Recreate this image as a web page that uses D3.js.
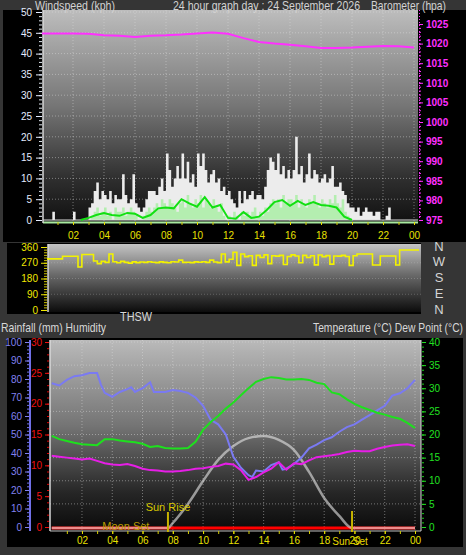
<!DOCTYPE html>
<html><head><meta charset="utf-8">
<script src="https://cdn.jsdelivr.net/npm/d3@7"></script>
<style>html,body{margin:0;padding:0;background:#353535;}svg{display:block;}</style>
</head><body><svg id="c" width="466" height="555"></svg>
<script>
// ---------- DATA ----------
const titleTexts = ["Windspeed (kph)", "24 hour graph day : 24 September 2026", "Barometer (hpa)"];
const hourTickVals = [2,4,6,8,10,12,14,16,18,20,22,24];
const hourTickLabels = ["02","04","06","08","10","12","14","16","18","20","22","00"];
const speedTicks = [0,5,10,15,20,25,30,35,40,45,50];
const baroTicks = [975,980,985,990,995,1000,1005,1010,1015,1020,1025];
const dirTicks = [0,90,180,270,360];
const compassLabels = ["N","W","S","E","N"];
const compassDeg = [360,270,180,90,0];
const humTicks = [0,10,20,30,40,50,60,70,80,90,100];
const rainTicks = [0,5,10,15,20,25,30];
const tempTicks = [0,5,10,15,20,25,30,35,40];

// wind gust (kph), one value per 10 minutes
const gustKph = [
 0,0,0,0,2,0,  0,0,0,0,0,0,  2,0,0,0,0,0,  3,4,7,9,5,7,
 6,5,7,4,6,5,  5,11,6,4,5,11, 4,3,2,3,5,7, 7,7,6,8,10,7,
 16,12,8,10,13,10, 16,10,14,9,11,8, 16,13,16,12,9,11, 12,9,10,7,8,6,
 7,5,4,3,7,4,  7,5,6,7,5,6,  6,5,8,12,15,14, 12,16,11,13,10,12,
 10,12,20,11,13,9, 11,16,10,12,11,9, 10,11,9,10,13,8, 8,9,7,6,4,3,
 3,2,3,1,2,3,  2,2,1,2,2,0,  0,1,3,0,0,0,  0,0,0,0,0,0];
// wind speed (kph), one value per 10 minutes
const speedKph = [
 0,0,0,0,0,0,  0,0,0,0,0,0,  0,0,0,0,0,0,  0,1,2,3,1,2,
 3,1,2,0,3,2,  2,3,1,2,3,2,  1,0,0,1,2,3,  2,3,4,3,5,4,
 3,5,4,3,2,4,  5,3,6,4,3,5,  4,6,3,5,4,3,  5,3,2,4,1,0,
 1,0,2,1,0,2,  1,2,1,2,3,1,  2,1,3,2,4,5,  4,5,3,6,4,5,
 5,4,6,3,5,4,  3,5,4,6,4,3,  5,4,3,5,4,6,  4,3,5,2,1,0,
 0,0,0,0,0,0,  0,0,0,0,0,0,  0,0,0,0,0,0,  0,0,0,0,0,0];
// average wind (kph), every 30 minutes
const avgKph = [0,0,0,0,0,0,0.5,1.2,1.7,1.2,1.0,1.7,1.5,0.5,1.2,2.8,3.0,2.8,5.0,4.0,3.2,5.5,3.0,3.6,
 0.5,0.3,1.9,0.5,0.8,2.4,4.3,4.8,3.4,4.6,3.6,4.3,3.6,3.4,3.0,0.8,0,0,0,0,0,0,0,0,0];
// barometer (hpa), hourly
const baroHpa = [1022.6,1022.6,1022.6,1022.5,1022.1,1022.0,1021.7,1022.0,1022.1,1022.3,1022.6,1022.8,
 1022.5,1021.4,1020.4,1020.0,1019.7,1019.3,1018.9,1018.9,1019.0,1019.2,1019.4,1019.3,1019.0];
// wind direction (deg), every 15 minutes
const windDirDeg = [
 292,292,292,292, 307,307,307,307, 246,317,317,317, 280,265,278,272,
 320,276,270,278, 272,268,275,271, 274,272,276,273, 271,275,272,270,
 276,274,285,272, 273,271,275,273, 276,272,285,274, 271,320,275,290,
 330,255,320,305, 310,255,312,300, 315,265,310,308, 312,260,306,315,
 309,270,312,300, 310,258,314,305, 311,262,309,308, 312,306,255,310,
 320,320,320,320, 257,257,309,309, 309,309,257,343, 343,343,343,343, 343];
// humidity (%)
const humHours = [0,0.5,1,1.5,2,2.5,3,3.25,3.5,4,4.5,5,5.25,5.5,6,6.5,6.75,7,7.5,8,8.5,9,9.5,10,10.5,11,11.5,12,12.5,13,
 13.25,13.5,14,14.5,15,15.25,15.5,16,16.5,17,17.5,18,18.5,19,19.5,20,20.5,21,21.5,22,22.5,23,23.5,24];
const humPct = [77.7,76.5,79.5,81.5,82,83.2,83.2,77,72.5,70.4,73,74.5,75.5,73,75,78.2,73,73,73,74,73.5,72.5,70,65.5,58,55.5,50,38,32,28,
 27,30.5,30,33.5,35,31,31.5,34,37.5,42.5,44.5,47,48.5,51.5,54,55.5,58,60.5,63,65.5,71,72.3,75,79.5];
// temperature and dew point (°C), every 30 minutes
const tempC = [19.7,19.0,18.6,18.2,17.9,17.8,17.7,19.0,19.0,18.7,18.5,18.3,18.0,17.3,17.5,17.1,17.0,17.0,17.1,18.4,
 21.0,22.7,24.0,25.6,26.9,28.5,30.0,31.4,32.0,32.4,32.2,31.9,31.9,32.0,31.8,31.2,30.9,29.1,28.7,27.6,
 26.6,25.9,25.3,24.7,24.3,23.8,23.4,22.5,21.4];
const dewC = [15.4,15.2,15.0,14.8,14.6,14.8,14.3,13.8,13.5,13.4,13.6,13.2,12.6,12.3,12.2,12.0,12.0,12.1,12.3,12.6,
 12.7,13.0,13.2,13.7,13.5,12.3,10.2,10.8,11.8,12.6,14.0,12.4,13.8,13.6,14.4,15.1,15.3,15.5,15.8,16.2,
 16.5,16.4,16.4,16.9,17.3,17.6,17.8,17.9,17.5];
// solar radiation (W/m2)
const solarHours = [0,7.68,8,9,10,11,12,13,14,15,16,17,18,19,19.84,24];
const solarWm2 = [0,0,27,130,254,368,443,486,497,476,422,303,162,65,0,0];
// rainfall (mm)
const rainHours = [0,24];
const rainMm = [0,0];
// events
const eventLabels = ["Moon Set","Sun Rise","Sun Set"];
const eventHours = [4.9,7.68,19.84];

// ---------- DRAW ----------
const FONT = "'Liberation Sans', Arial, sans-serif";
const svg = d3.select("#c").attr("font-family", FONT);
const defs = svg.append("defs");
function grad(id, stops){
  const g = defs.append("linearGradient").attr("id", id).attr("x1",0).attr("y1",0).attr("x2",0).attr("y2",1);
  stops.forEach(s => g.append("stop").attr("offset", s[0]).attr("stop-color", s[1]));
}
grad("gTop", [[0,"#bdbdbd"],[0.45,"#767676"],[0.8,"#2e2e2e"],[1,"#111"]]);
grad("gDir", [[0,"#c4c4c4"],[0.45,"#6a6a6a"],[1,"#0c0c0c"]]);
grad("gBot", [[0,"#bababa"],[0.45,"#747474"],[0.8,"#262626"],[1,"#0a0a0a"]]);

svg.append("rect").attr("width",466).attr("height",555).attr("fill","#353535");

function styleAxis(g, color, size, weight){
  g.attr("font-family", FONT).attr("font-size", size);
  g.select(".domain").remove();
  g.selectAll("line").attr("stroke", color);
  g.selectAll("text").attr("fill", color).attr("font-weight", weight || "normal");
}
const gridCol = "rgba(225,225,225,0.45)";

// ===== TOP PANEL =====
svg.append("rect").attr("x",3).attr("y",10).attr("width",463).attr("height",232).attr("fill","#000");
const T = {l:43, r:418, t:10, b:222};
svg.append("rect").attr("x",T.l).attr("y",T.t).attr("width",T.r-T.l).attr("height",T.b-T.t).attr("fill","url(#gTop)");
const xTop = d3.scaleLinear().domain([0,24]).range([42,414]);
const ySpeed = d3.scaleLinear().domain([0,50]).range([220,12]);
const yBaro = d3.scaleLinear().domain([975,1025]).range([220,24]);

const gg = svg.append("g");
gg.selectAll("line.v").data(hourTickVals).join("line")
  .attr("x1", d=>xTop(d)).attr("x2", d=>xTop(d)).attr("y1", T.t).attr("y2", T.b)
  .attr("stroke", gridCol).attr("stroke-dasharray","1,2");
gg.selectAll("line.h").data(speedTicks.slice(1)).join("line")
  .attr("x1", T.l).attr("x2", T.r).attr("y1", d=>ySpeed(d)).attr("y2", d=>ySpeed(d))
  .attr("stroke", gridCol).attr("stroke-dasharray","1,2");

const step10 = 1/6;
const stepArea = arr => d3.area()
  .x((d,i)=>xTop(i*step10)).y0(ySpeed(0)).y1((d,i)=>ySpeed(arr[Math.min(i, arr.length-1)]))
  .curve(d3.curveStepAfter);
const ext = arr => arr.concat([arr[arr.length-1]]);
svg.append("path").datum(ext(gustKph)).attr("d", stepArea(ext(gustKph))).attr("fill","#ececec");
svg.append("path").datum(ext(speedKph)).attr("d", stepArea(ext(speedKph))).attr("fill","#b4eeb0");
// baselines
svg.append("line").attr("x1",T.l).attr("x2",T.r).attr("y1",ySpeed(0)).attr("y2",ySpeed(0)).attr("stroke","#dcdcdc").attr("stroke-width",1);
svg.append("line").attr("x1",T.l).attr("x2",T.r).attr("y1",T.b+0.5).attr("y2",T.b+0.5).attr("stroke","#a8e8a0").attr("stroke-width",2);
svg.append("line").attr("x1",T.l).attr("x2",T.l).attr("y1",T.t).attr("y2",T.b+1).attr("stroke","#d8d8d8").attr("stroke-width",1.5);

const avgLine = d3.line().x((d,i)=>xTop(i*0.5)).y(d=>ySpeed(d))
  .defined((d,i)=> d>0 || avgKph[i-1]>0 || avgKph[i+1]>0);
svg.append("path").datum(avgKph).attr("d", avgLine).attr("fill","none").attr("stroke","#12e012").attr("stroke-width",2);

const baroLine = d3.line().x((d,i)=>xTop(i)).y(d=>yBaro(d));
svg.append("path").datum(baroHpa).attr("d", baroLine).attr("fill","none").attr("stroke","#ff30ff").attr("stroke-width",2);

// axes
let a = svg.append("g").attr("transform","translate(42,0)").call(d3.axisLeft(ySpeed).tickValues(d3.range(0,51,1)).tickSize(3).tickFormat(""));
styleAxis(a, "#e0e8f0", 10);
a = svg.append("g").attr("transform","translate(42,0)").call(d3.axisLeft(ySpeed).tickValues(speedTicks).tickSize(6).tickPadding(4));
styleAxis(a, "#e4ecff", 10);
svg.append("line").attr("x1",419.5).attr("x2",419.5).attr("y1",10).attr("y2",222).attr("stroke","#ff30ff").attr("stroke-dasharray","1,2");
a = svg.append("g").attr("transform","translate(419,0)").call(d3.axisRight(yBaro).tickValues(d3.range(975,1026,1)).tickSize(2).tickFormat(""));
styleAxis(a, "#ff30ff", 10);
a = svg.append("g").attr("transform","translate(419,0)").call(d3.axisRight(yBaro).tickValues(baroTicks).tickFormat(d3.format("d")).tickSize(4).tickPadding(3));
styleAxis(a, "#ff30ff", 10, "bold");
a = svg.append("g").attr("transform","translate(0,222)").call(d3.axisBottom(xTop).tickValues(d3.range(1,25,1)).tickSize(3).tickFormat(""));
styleAxis(a, "#d8d000", 10);
a = svg.append("g").attr("transform","translate(0,222)").call(d3.axisBottom(xTop).tickValues(hourTickVals).tickFormat((d,i)=>hourTickLabels[i]).tickSize(3).tickPadding(7));
styleAxis(a, "#e8e000", 10);

// titles
const titleX = [35,173,371], titleW = [80,187,75];
svg.append("g").selectAll("text").data(titleTexts).join("text")
  .attr("x",(d,i)=>titleX[i]).attr("y",9.5).attr("font-size",13).attr("fill","#d2d2d2")
  .attr("textLength",(d,i)=>titleW[i]).attr("lengthAdjust","spacingAndGlyphs").text(d=>d);

// ===== WIND DIRECTION PANEL =====
svg.append("rect").attr("x",7).attr("y",243).attr("width",414).attr("height",71).attr("fill","#000");
const D = {l:48, r:421, t:244, b:312};
svg.append("rect").attr("x",D.l).attr("y",D.t).attr("width",D.r-D.l).attr("height",D.b-D.t).attr("fill","url(#gDir)");
const xDir = d3.scaleLinear().domain([0,24]).range([47,419]);
const yDir = d3.scaleLinear().domain([0,360]).range([310,247]);
svg.append("g").selectAll("line").data(dirTicks.slice(1,4)).join("line")
  .attr("x1",D.l).attr("x2",D.r).attr("y1",d=>yDir(d)).attr("y2",d=>yDir(d))
  .attr("stroke","rgba(200,200,200,0.3)").attr("stroke-dasharray","1,2");
svg.append("line").attr("x1",D.l).attr("x2",D.l).attr("y1",D.t).attr("y2",D.b).attr("stroke","#d8d8d8").attr("stroke-width",1.5);
const dirLine = d3.line().x((d,i)=>xDir(i*0.25)).y(d=>yDir(d)).curve(d3.curveStepAfter);
svg.append("path").datum(windDirDeg).attr("d", dirLine).attr("fill","none").attr("stroke","#f2f200").attr("stroke-width",1.6);
a = svg.append("g").attr("transform","translate(47,0)").call(d3.axisLeft(yDir).tickValues(d3.range(0,361,15)).tickSize(3).tickFormat(""));
styleAxis(a, "#c8c000", 10);
a = svg.append("g").attr("transform","translate(47,0)").call(d3.axisLeft(yDir).tickValues(dirTicks).tickSize(6).tickPadding(3));
styleAxis(a, "#f0e800", 10);
svg.append("g").selectAll("text").data(compassLabels).join("text")
  .attr("x",439).attr("y",(d,i)=>yDir(compassDeg[i])-1).attr("dy","0.36em").attr("text-anchor","middle")
  .attr("font-size",13).attr("fill","#d4d4d4").text(d=>d);

// middle labels
svg.append("text").attr("x",120).attr("y",321).attr("font-size",12).attr("fill","#d8d8d8")
  .attr("textLength",32).attr("lengthAdjust","spacingAndGlyphs").text("THSW");
svg.append("text").attr("x",1).attr("y",332).attr("font-size",13).attr("fill","#d8d8d8")
  .attr("textLength",105).attr("lengthAdjust","spacingAndGlyphs").text("Rainfall (mm)  Humidity");
svg.append("text").attr("x",313).attr("y",332).attr("font-size",13).attr("fill","#d8d8d8")
  .attr("textLength",150).attr("lengthAdjust","spacingAndGlyphs").text("Temperature (°C) Dew Point (°C)");

// ===== BOTTOM PANEL =====
svg.append("rect").attr("x",7).attr("y",338).attr("width",456).attr("height",209).attr("fill","#000");
const B = {l:50, r:421, t:340, b:531};
svg.append("rect").attr("x",B.l).attr("y",B.t).attr("width",B.r-B.l).attr("height",B.b-B.t).attr("fill","url(#gBot)");
const xBot = d3.scaleLinear().domain([0,24]).range([51.7,415]);
const yHum = d3.scaleLinear().domain([0,100]).range([527,342]);
const yRain = d3.scaleLinear().domain([0,30]).range([527,342]);
const yTemp = d3.scaleLinear().domain([0,40]).range([527,342]);
const ySolar = d3.scaleLinear().domain([0,1000]).range([527,342]);

const gb = svg.append("g");
gb.selectAll("line.v").data(hourTickVals).join("line")
  .attr("x1",d=>xBot(d)).attr("x2",d=>xBot(d)).attr("y1",B.t).attr("y2",B.b)
  .attr("stroke",gridCol).attr("stroke-dasharray","1,2");
gb.selectAll("line.h").data(tempTicks.slice(1)).join("line")
  .attr("x1",B.l).attr("x2",B.r).attr("y1",d=>yTemp(d)).attr("y2",d=>yTemp(d))
  .attr("stroke",gridCol).attr("stroke-dasharray","1,2");
svg.append("line").attr("x1",B.l).attr("x2",B.l).attr("y1",B.t).attr("y2",B.b).attr("stroke","#d8d8d8").attr("stroke-width",1.5);
svg.append("line").attr("x1",B.l).attr("x2",B.r).attr("y1",B.b).attr("y2",B.b).attr("stroke","#bdbdbd").attr("stroke-width",1);
svg.append("line").attr("x1",B.r).attr("x2",B.r).attr("y1",B.t).attr("y2",B.b).attr("stroke","#d8d8d8").attr("stroke-width",1);

// rain
svg.append("path").datum(rainMm).attr("d", d3.line().x((d,i)=>xBot(rainHours[i])).y(d=>yRain(d)+1))
  .attr("fill","none").attr("stroke","#ff0000").attr("stroke-width",3);
// solar
svg.append("path").datum(solarWm2).attr("d", d3.line().x((d,i)=>xBot(solarHours[i])).y(d=>ySolar(d)+1).curve(d3.curveMonotoneX))
  .attr("fill","none").attr("stroke","#e2e2e2").attr("stroke-opacity",0.62).attr("stroke-width",2.5);
// humidity
svg.append("path").datum(humPct).attr("d", d3.line().x((d,i)=>xBot(humHours[i])).y(d=>yHum(d)))
  .attr("fill","none").attr("stroke","#7a7af2").attr("stroke-width",2);
// temperature
svg.append("path").datum(tempC).attr("d", d3.line().x((d,i)=>xBot(i*0.5)).y(d=>yTemp(d)))
  .attr("fill","none").attr("stroke","#1ee01e").attr("stroke-width",2);
// dew point
svg.append("path").datum(dewC).attr("d", d3.line().x((d,i)=>xBot(i*0.5)).y(d=>yTemp(d)))
  .attr("fill","none").attr("stroke","#e61ee6").attr("stroke-width",2);

// sun rise / set markers
const sunIdx = [1,2];
svg.append("g").selectAll("line").data(sunIdx).join("line")
  .attr("x1",i=>xBot(eventHours[i])).attr("x2",i=>xBot(eventHours[i]))
  .attr("y1",i=> i===1 ? 512 : 511).attr("y2",532).attr("stroke","#c8b400").attr("stroke-width",2);
svg.append("text").attr("x",xBot(eventHours[1])).attr("y",511).attr("text-anchor","middle")
  .attr("font-size",11).attr("fill","#d8c800").text(eventLabels[1]);
svg.append("text").attr("x",xBot(eventHours[0])).attr("y",530).attr("text-anchor","middle")
  .attr("font-size",11).attr("fill","#b89c00").text(eventLabels[0]);

// bottom axes
svg.append("line").attr("x1",30).attr("x2",30).attr("y1",340).attr("y2",531).attr("stroke","#7070e8").attr("stroke-width",2);
a = svg.append("g").attr("transform","translate(29,0)").call(d3.axisLeft(yHum).tickValues(d3.range(0,101,2)).tickSize(2).tickFormat(""));
styleAxis(a, "#7070e8", 10);
a = svg.append("g").attr("transform","translate(29,0)").call(d3.axisLeft(yHum).tickValues(humTicks).tickSize(4).tickPadding(3));
styleAxis(a, "#8080f0", 10);
a = svg.append("g").attr("transform","translate(49,0)").call(d3.axisLeft(yRain).tickValues(d3.range(0,31,1)).tickSize(2).tickFormat(""));
styleAxis(a, "#e00000", 10);
a = svg.append("g").attr("transform","translate(49,0)").call(d3.axisLeft(yRain).tickValues(rainTicks).tickSize(4).tickPadding(3));
styleAxis(a, "#f01010", 10);
a = svg.append("g").attr("transform","translate(422,0)").call(d3.axisRight(yTemp).tickValues(d3.range(0,41,1)).tickSize(2).tickFormat(""));
styleAxis(a, "#18d018", 10);
a = svg.append("g").attr("transform","translate(422,0)").call(d3.axisRight(yTemp).tickValues(tempTicks).tickSize(4).tickPadding(3));
styleAxis(a, "#22e022", 10);
a = svg.append("g").attr("transform","translate(0,531)").call(d3.axisBottom(xBot).tickValues(d3.range(1,25,1)).tickSize(3).tickFormat(""));
styleAxis(a, "#d8d000", 10);
a = svg.append("g").attr("transform","translate(0,531)").call(d3.axisBottom(xBot).tickValues(hourTickVals).tickFormat((d,i)=>hourTickLabels[i]).tickSize(3).tickPadding(3));
styleAxis(a, "#e8e000", 10);
svg.append("text").attr("x",xBot(eventHours[2])-2).attr("y",544.5).attr("text-anchor","middle")
  .attr("font-size",10).attr("fill","#e8d800").text(eventLabels[2]);
</script></body></html>
